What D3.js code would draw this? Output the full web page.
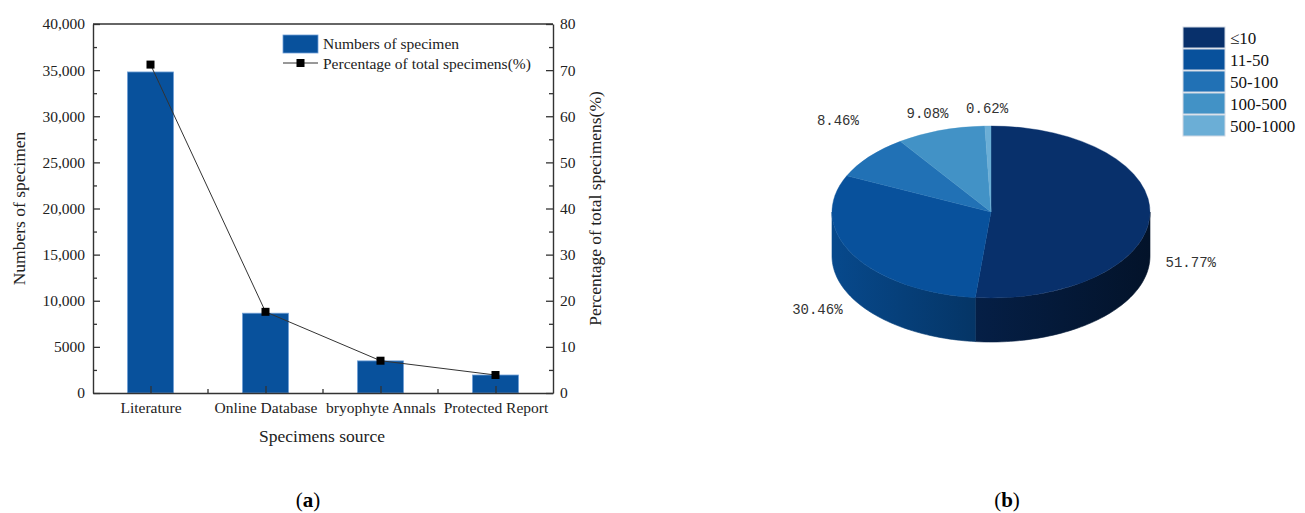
<!DOCTYPE html>
<html>
<head>
<meta charset="utf-8">
<script src="https://cdn.jsdelivr.net/npm/d3@7"></script>
<style>
  html, body { margin: 0; padding: 0; background: #fff; }
  svg { display: block; }
</style>
</head>
<body>
<svg id="fig" width="1305" height="513"></svg>
<script>
// ---- (a) specimens by source ----
const sources = ["Literature", "Online Database", "bryophyte Annals", "Protected Report"];
const specimenCounts = [34800, 8650, 3480, 1950];
const specimenPercents = [71.2, 17.6, 7.0, 3.9];
const countTicks = [0, 5000, 10000, 15000, 20000, 25000, 30000, 35000, 40000];
const countTickLabels = ["0", "5000", "10,000", "15,000", "20,000", "25,000", "30,000", "35,000", "40,000"];
const percentTicks = [0, 10, 20, 30, 40, 50, 60, 70, 80];
const percentTickLabels = ["0", "10", "20", "30", "40", "50", "60", "70", "80"];

// ---- (b) share of specimens by size class ----
const sizeClasses = ["≤10", "11-50", "50-100", "100-500", "500-1000"];
const classShares = [51.77, 30.46, 8.46, 9.08, 0.62];
const classShareLabels = ["51.77%", "30.46%", "8.46%", "9.08%", "0.62%"];

const svg = d3.select("#fig");
svg.append("rect").attr("width", 1305).attr("height", 513).attr("fill", "#fff");

const serif = "'Liberation Serif', 'Times New Roman', serif";
const axisColor = "#333";
const barBlue = "#08519c";

// ================= (a) bar + line =================
const plot = { left: 93, right: 553, top: 24, bottom: 393 };

const x = d3.scalePoint().domain(sources).range([plot.left, plot.right]).padding(0.5);
const yCount = d3.scaleLinear().domain([0, 40000]).range([plot.bottom, plot.top]);
const yPct = d3.scaleLinear().domain([0, 80]).range([plot.bottom, plot.top]);
const barW = x.step() * 0.4;

const ga = svg.append("g");

// bars
ga.selectAll("rect.bar").data(sources).join("rect")
  .attr("class", "bar")
  .attr("x", (d) => x(d) - barW / 2)
  .attr("width", barW)
  .attr("y", (d, i) => yCount(specimenCounts[i]))
  .attr("height", (d, i) => yCount(0) - yCount(specimenCounts[i]))
  .attr("fill", barBlue)
  .attr("stroke", "#6f9fd6")
  .attr("stroke-width", 0.8);

function styleAxis(g) {
  g.select(".domain").attr("stroke", axisColor).attr("stroke-width", 1.4);
  g.selectAll(".tick line").attr("stroke", axisColor).attr("stroke-width", 1.3);
  g.selectAll(".tick text").attr("fill", "#222")
    .style("font-family", serif).style("font-size", "15.5px");
}

// minor ticks
const countMinor = d3.range(2500, 40000, 5000);
const pctMinor = d3.range(5, 80, 10);
ga.append("g").attr("transform", `translate(${plot.left},0)`)
  .call(d3.axisLeft(yCount).tickValues(countMinor).tickSize(-4).tickFormat(""))
  .call(styleAxis).call((g) => g.select(".domain").remove());
ga.append("g").attr("transform", `translate(${plot.right},0)`)
  .call(d3.axisRight(yPct).tickValues(pctMinor).tickSize(-4).tickFormat(""))
  .call(styleAxis).call((g) => g.select(".domain").remove());
// bottom minor ticks between categories
const midPoints = sources.slice(1).map((d, i) => (x(sources[i]) + x(d)) / 2);
ga.selectAll("line.xminor").data(midPoints).join("line")
  .attr("class", "xminor")
  .attr("x1", (d) => d).attr("x2", (d) => d)
  .attr("y1", plot.bottom).attr("y2", plot.bottom - 4)
  .attr("stroke", axisColor).attr("stroke-width", 1.3);

// main axes
ga.append("g").attr("transform", `translate(${plot.left},0)`)
  .call(d3.axisLeft(yCount).tickValues(countTicks)
    .tickFormat((d, i) => countTickLabels[i]).tickSizeInner(-7).tickSizeOuter(0).tickPadding(8))
  .call(styleAxis);
ga.append("g").attr("transform", `translate(${plot.right},0)`)
  .call(d3.axisRight(yPct).tickValues(percentTicks)
    .tickFormat((d, i) => percentTickLabels[i]).tickSizeInner(-7).tickSizeOuter(0).tickPadding(7))
  .call(styleAxis);
ga.append("g").attr("transform", `translate(0,${plot.bottom})`)
  .call(d3.axisBottom(x).tickSizeInner(-7).tickSizeOuter(0).tickPadding(9))
  .call(styleAxis);
// top frame line
ga.append("line")
  .attr("x1", plot.left).attr("x2", plot.right)
  .attr("y1", plot.top).attr("y2", plot.top)
  .attr("stroke", axisColor).attr("stroke-width", 1.4);

// percentage line
const lineGen = d3.line().x((d) => x(d.s)).y((d) => yPct(d.p));
const pctPoints = sources.map((s, i) => ({ s, p: specimenPercents[i] }));
ga.append("path").datum(pctPoints)
  .attr("d", lineGen).attr("fill", "none")
  .attr("stroke", "#333").attr("stroke-width", 1);
ga.selectAll("rect.marker").data(pctPoints).join("rect")
  .attr("class", "marker")
  .attr("x", (d) => x(d.s) - 4).attr("y", (d) => yPct(d.p) - 4)
  .attr("width", 8).attr("height", 8).attr("fill", "#000");

// axis titles
ga.append("text")
  .attr("transform", `translate(25,${(plot.top + plot.bottom) / 2}) rotate(-90)`)
  .attr("text-anchor", "middle").attr("fill", "#222")
  .style("font-family", serif).style("font-size", "17.5px")
  .text("Numbers of specimen");
ga.append("text")
  .attr("transform", `translate(601,${(plot.top + plot.bottom) / 2}) rotate(-90)`)
  .attr("text-anchor", "middle").attr("fill", "#222")
  .style("font-family", serif).style("font-size", "17.5px")
  .text("Percentage of total specimens(%)");
ga.append("text")
  .attr("x", 322).attr("y", 442)
  .attr("text-anchor", "middle").attr("fill", "#222")
  .style("font-family", serif).style("font-size", "17.5px")
  .text("Specimens source");

// legend
const lg = ga.append("g").attr("transform", "translate(283,35)");
lg.append("rect").attr("width", 35).attr("height", 18)
  .attr("fill", barBlue).attr("stroke", "#6f9fd6").attr("stroke-width", 0.8);
lg.append("text").attr("x", 40).attr("y", 14).attr("fill", "#222")
  .style("font-family", serif).style("font-size", "15.5px")
  .text("Numbers of specimen");
lg.append("line").attr("x1", 0).attr("x2", 35).attr("y1", 28).attr("y2", 28)
  .attr("stroke", "#333").attr("stroke-width", 1);
lg.append("rect").attr("x", 13.5).attr("y", 24).attr("width", 8).attr("height", 8).attr("fill", "#000");
lg.append("text").attr("x", 40).attr("y", 34).attr("fill", "#222")
  .style("font-family", serif).style("font-size", "15.5px")
  .text("Percentage of total specimens(%)");

// panel label
function panelLabel(cx, letter) {
  const t = svg.append("text").attr("x", cx).attr("y", 507)
    .attr("text-anchor", "middle").attr("fill", "#000")
    .style("font-family", serif).style("font-size", "21px");
  t.append("tspan").text("(");
  t.append("tspan").attr("font-weight", "bold").text(letter);
  t.append("tspan").text(")");
}
panelLabel(308, "a");
panelLabel(1007, "b");

// ================= (b) 3D pie =================
const pie3 = { cx: 991, cy: 212, rx: 159, ry: 86, depth: 44 };
const classColors = d3.schemeBlues[9].slice(4).reverse();

const arcsData = d3.pie().sort(null).value((d) => d)(classShares);

const defs = svg.append("defs");
classColors.forEach((c, i) => {
  const g = defs.append("linearGradient")
    .attr("id", "side" + i)
    .attr("gradientUnits", "userSpaceOnUse")
    .attr("x1", pie3.cx - pie3.rx).attr("x2", pie3.cx + pie3.rx)
    .attr("y1", 0).attr("y2", 0);
  [[0, 0.3], [0.45, 1.2], [1, 2.6]].forEach(([o, k]) => {
    g.append("stop").attr("offset", o).attr("stop-color", d3.color(c).darker(k).formatHex());
  });
});

const gb = svg.append("g");

function ellipsePt(theta, dy) {
  return [pie3.cx + pie3.rx * Math.sin(theta), pie3.cy - pie3.ry * Math.cos(theta) + dy];
}

// front walls
const wallLine = d3.line();
arcsData.forEach((a, i) => {
  const s = Math.max(a.startAngle, Math.PI / 2);
  const e = Math.min(a.endAngle, 3 * Math.PI / 2);
  if (s >= e) return;
  const n = 60;
  const top = d3.range(n + 1).map((k) => ellipsePt(s + (e - s) * k / n, 0));
  const bottom = d3.range(n + 1).map((k) => ellipsePt(e - (e - s) * k / n, pie3.depth));
  gb.append("path")
    .attr("d", wallLine(top.concat(bottom)) + "Z")
    .attr("fill", `url(#side${i})`)
    .attr("stroke", `url(#side${i})`).attr("stroke-width", 0.6);
});

// top faces: d3.arc squashed into an ellipse
const arcGen = d3.arc().innerRadius(0).outerRadius(pie3.rx);
gb.append("g")
  .attr("transform", `translate(${pie3.cx},${pie3.cy}) scale(1,${pie3.ry / pie3.rx})`)
  .selectAll("path").data(arcsData).join("path")
  .attr("d", arcGen)
  .attr("fill", (d, i) => classColors[i])
  .attr("stroke", (d, i) => classColors[i]).attr("stroke-width", 0.5);

// share labels
const labelRx = 200, labelRy = 105;
const labelLift = [0, 0, -25, 0, 0];
gb.selectAll("text.share").data(arcsData).join("text")
  .attr("class", "share")
  .attr("x", (d) => pie3.cx + labelRx * Math.sin((d.startAngle + d.endAngle) / 2))
  .attr("y", (d, i) => {
    const m = (d.startAngle + d.endAngle) / 2;
    const c = Math.cos(m);
    return pie3.cy - labelRy * c + (c < 0 ? pie3.depth : 0) + 6 + labelLift[i];
  })
  .attr("text-anchor", "middle").attr("fill", "#333")
  .style("font-family", "'Liberation Mono', monospace").style("font-size", "14px")
  .text((d, i) => classShareLabels[i]);

// legend
const pl = svg.append("g").attr("transform", "translate(1183,27)");
sizeClasses.forEach((name, i) => {
  pl.append("rect").attr("x", 0).attr("y", i * 22)
    .attr("width", 42).attr("height", 21)
    .attr("fill", classColors[i]).attr("stroke", "#d0d8e4").attr("stroke-width", 1);
  pl.append("text").attr("x", 47).attr("y", i * 22 + 16.5).attr("fill", "#111")
    .style("font-family", serif).style("font-size", "17px")
    .text(name);
});
</script>
</body>
</html>
